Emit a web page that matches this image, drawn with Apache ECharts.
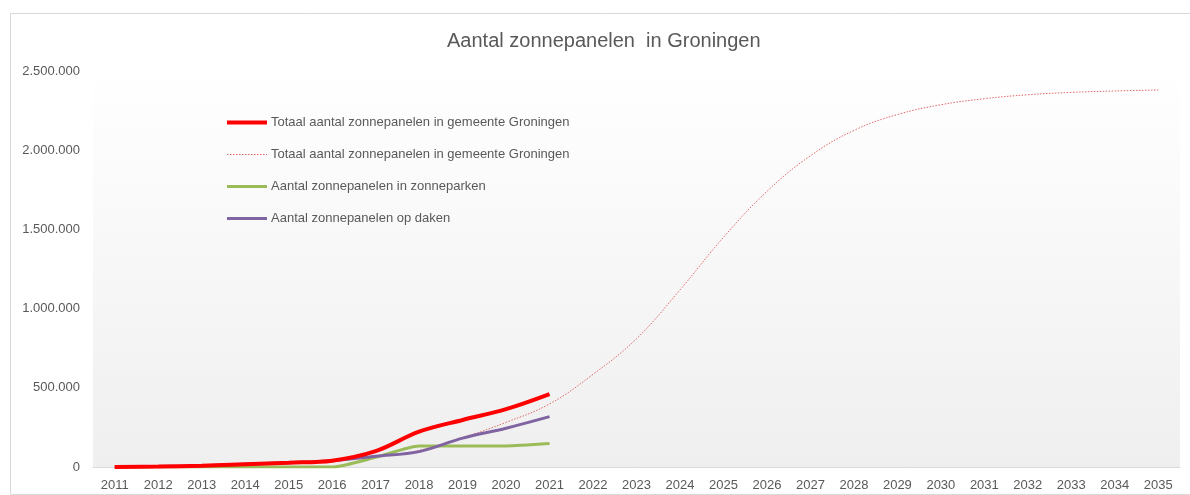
<!DOCTYPE html>
<html>
<head>
<meta charset="utf-8">
<script src="https://cdn.jsdelivr.net/npm/echarts@6/dist/echarts.min.js"></script>
<style>
  html, body { margin: 0; padding: 0; background: #fff; }
  #chart { width: 1190px; height: 495px; }
</style>
</head>
<body>
<div id="chart"></div>
<script>
// categories
const years = ['2011', '2012', '2013', '2014', '2015', '2016', '2017', '2018', '2019', '2020', '2021', '2022',
  '2023', '2024', '2025', '2026', '2027', '2028', '2029', '2030', '2031', '2032', '2033', '2034', '2035']

// series values
const totaal = [0, 3000, 8000, 17000, 27000, 40000, 100000, 223000, 297000, 365000, 460000]
const trend = [0, 3000, 8000, 15000, 25000, 38000, 65000, 105000, 185000, 282000, 398000, 585000,
  810000, 1118000, 1450000, 1740000, 1965000, 2125000, 2225000, 2287000, 2325000, 2350000, 2365000, 2374000, 2380000]
const parken = [0, 0, 0, 0, 0, 0, 61000, 133000, 133000, 133000, 148000]
const daken = [0, 3000, 8000, 17000, 27000, 40000, 68000, 97000, 182000, 245000, 318000]

const seriesNames = [
  'Totaal aantal zonnepanelen in gemeente Groningen',
  'Totaal aantal zonnepanelen in gemeente Groningen ',
  'Aantal zonnepanelen in zonneparken',
  'Aantal zonnepanelen op daken'
]

const textColor = '#595959'
const fontFamily = '"Liberation Sans", Arial, sans-serif'

function fmt(v) {
  return String(v).replace(/\B(?=(\d{3})+(?!\d))/g, '.')
}

const chart = echarts.init(document.getElementById('chart'))
chart.setOption({
  animation: false,
  backgroundColor: '#fff',
  textStyle: { fontFamily: fontFamily },
  graphic: [
    {
      type: 'rect',
      left: 8,
      top: 11,
      shape: { width: 1190, height: 481 },
      style: { fill: 'none', stroke: '#d9d9d9', lineWidth: 1 },
      silent: true,
      z: -1
    }
  ],
  title: {
    text: 'Aantal zonnepanelen  in Groningen',
    left: 442,
    top: 26,
    textStyle: { color: textColor, fontSize: 20, fontWeight: 'normal', fontFamily: fontFamily }
  },
  legend: {
    orient: 'vertical',
    left: 220,
    top: 111,
    itemWidth: 40,
    itemHeight: 14,
    itemGap: 19,
    data: seriesNames,
    itemStyle: { opacity: 0 },
    lineStyle: { width: 'inherit' },
    textStyle: { color: textColor, fontSize: 13, fontFamily: fontFamily, padding: [0, 0, 0, -1] }
  },
  grid: {
    left: 93,
    right: 10,
    top: 71,
    bottom: 28,
    show: true,
    borderWidth: 0,
    backgroundColor: new echarts.graphic.LinearGradient(0, 0, 0, 1, [
      { offset: 0, color: '#ffffff' },
      { offset: 1, color: '#efefef' }
    ])
  },
  xAxis: {
    type: 'category',
    data: years,
    boundaryGap: true,
    axisLine: { lineStyle: { color: '#d9d9d9', width: 1 } },
    axisTick: { show: false },
    axisLabel: { color: textColor, fontSize: 13, margin: 12, interval: 0 }
  },
  yAxis: {
    type: 'value',
    min: 0,
    max: 2500000,
    interval: 500000,
    splitLine: { show: false },
    axisLine: { show: false },
    axisTick: { show: false },
    axisLabel: { color: textColor, fontSize: 13, margin: 13, formatter: fmt }
  },
  series: [
    {
      name: seriesNames[0],
      type: 'line',
      data: totaal,
      smooth: 0.35,
      symbol: 'none',
      lineStyle: { color: '#ff0000', width: 4 },
      itemStyle: { color: '#ff0000' },
      z: 4
    },
    {
      name: seriesNames[1],
      type: 'line',
      data: trend,
      smooth: 0.4,
      symbol: 'none',
      lineStyle: { color: '#e06666', width: 1, type: [1.5, 1.5] },
      itemStyle: { color: '#e06666' },
      z: 2
    },
    {
      name: seriesNames[2],
      type: 'line',
      data: parken,
      smooth: 0.2,
      symbol: 'none',
      lineStyle: { color: '#9bbb59', width: 3 },
      itemStyle: { color: '#9bbb59' },
      z: 3
    },
    {
      name: seriesNames[3],
      type: 'line',
      data: daken,
      smooth: 0.35,
      symbol: 'none',
      lineStyle: { color: '#8064a2', width: 3 },
      itemStyle: { color: '#8064a2' },
      z: 3
    }
  ]
})
</script>
</body>
</html>
